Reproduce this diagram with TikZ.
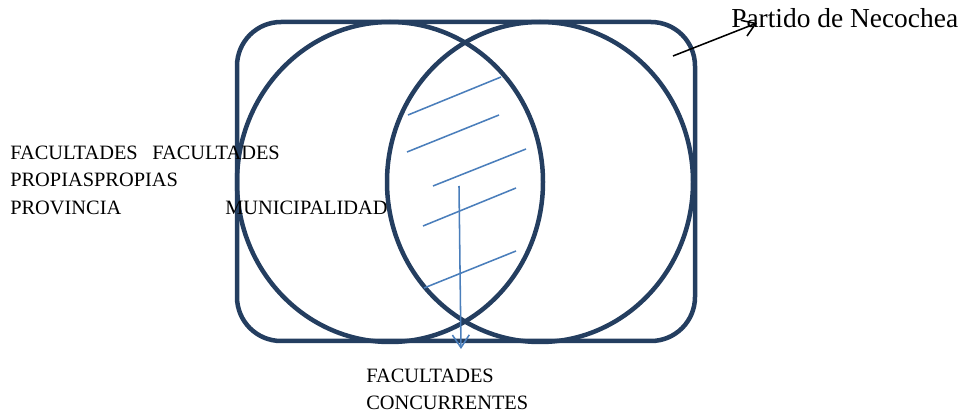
\documentclass[tikz,border=0pt]{standalone}
\usepackage{fontspec}
\setmainfont{Liberation Serif}
\usetikzlibrary{arrows.meta}
\definecolor{vennnavy}{RGB}{36,62,96}
\definecolor{hatchblue}{RGB}{74,126,187}

\begin{document}
\begin{tikzpicture}[x=0.025cm, y=-0.025cm,
    venn/.style={draw=vennnavy, line width=3.2pt},
    hatch/.style={draw=hatchblue, line width=1.1pt},
    smalltxt/.style={anchor=base west, inner sep=0pt, font=\fontsize{14.5}{16}\selectfont},
    bigtxt/.style={anchor=base west, inner sep=0pt, font=\fontsize{19.5}{22}\selectfont}]

    \useasboundingbox (0,0) rectangle (963,413);

    % Partido (rounded box)
    \draw[venn, rounded corners=1.1cm] (237,22) rectangle (695,341);

    % Provincia and Municipalidad circles
    \draw[venn] (390,182) ellipse [x radius=153, y radius=160];
    \draw[venn] (540,182) ellipse [x radius=153, y radius=160];

    % Hatching of the intersection
    \foreach \xa/\ya/\xb/\yb in {408/115/501/77, 407/152/499/115, 433/186/526/149,
                                 423/226/516/188, 424/288/516/251} {
        \draw[hatch] (\xa,\ya) -- (\xb,\yb);
    }

    % Labels
    \node[bigtxt] (necochea) at (731,28) {Partido de Necochea};
    \node[smalltxt] (facprov) at (10,160) {FACULTADES};
    \node[smalltxt] (facmuni) at (152,160) {FACULTADES};
    \node[smalltxt] (propias) at (10,187) {PROPIASPROPIAS};
    \node[smalltxt] (provincia) at (10,215) {PROVINCIA};
    \node[smalltxt] (municipalidad) at (225,215) {MUNICIPALIDAD};
    \node[smalltxt] (faccon) at (366,383) {FACULTADES};
    \node[smalltxt] (concurrentes) at (366,410) {CONCURRENTES};

    % Arrows
    \coordinate (boxtip) at (673,56);
    \coordinate (necotip) at (757,23);
    \draw[line width=1.1pt, -{Straight Barb[length=9pt, width=12pt]}] (boxtip) -- (necotip);
    \coordinate (hatchstart) at (459,186);
    \coordinate (hatchend) at (461,349);
    \draw[hatch, -{Straight Barb[length=9pt, width=12pt]}] (hatchstart) -- (hatchend);

\end{tikzpicture}
\end{document}
